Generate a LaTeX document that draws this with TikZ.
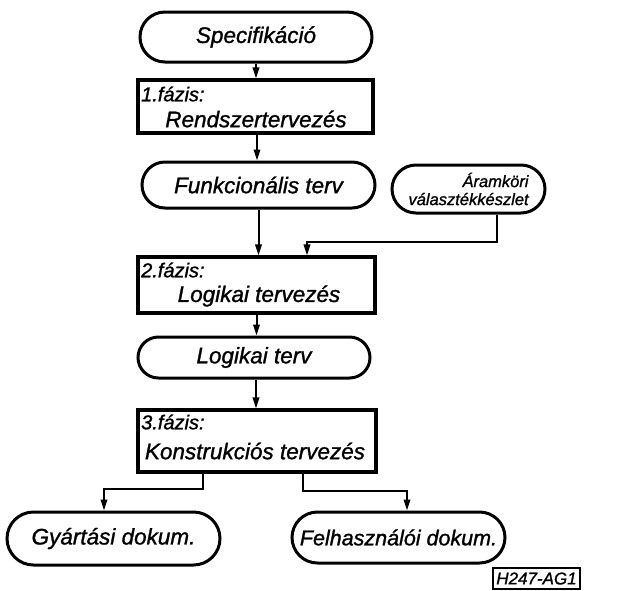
\documentclass[tikz,border=0pt]{standalone}
\usepackage{fontspec}
\setmainfont{Liberation Sans}
\newfontfamily\hand{Liberation Sans}[ItalicFeatures={FakeBold=1.2}]
\usetikzlibrary{shapes.misc,arrows.meta}
\begin{document}
\begin{tikzpicture}[x=1pt,y=-1pt,
  txt/.style={font=\hand\fontsize{22.5}{25}\selectfont\itshape},
  pill/.style={rounded rectangle, draw, line width=3pt, inner sep=0pt, align=center, txt},
  phase/.style={rectangle, draw, line width=3.2pt, inner sep=0pt},
  lbl/.style={inner sep=0pt, txt},
  small/.style={inner sep=0pt, font=\hand\fontsize{20}{22}\selectfont\itshape},
  conn/.style={line width=2pt, -{Triangle[length=11pt,width=6.5pt]}}]
\useasboundingbox[fill=white] (0,0) rectangle (621,590);

% terminals
\node[pill, minimum width=232pt, minimum height=50pt] (spec) at (256,37) {Specifikáció};
\node[pill, minimum width=233pt, minimum height=46pt] (funk) at (258.5,185) {Funkcionális terv};
\node[pill, minimum width=153pt, minimum height=48pt, align=right, text width=120pt,
      font=\hand\fontsize{16.5}{18}\selectfont\itshape] (aram) at (468.5,189) {Áramköri\\választékkészlet};
\node[pill, minimum width=232pt, minimum height=41pt] (logt) at (254,357.5) {Logikai terv};
\node[pill, minimum width=213pt, minimum height=53pt] (gyar) at (113.5,538.5) {Gyártási dokum.};
\node[pill, minimum width=213pt, minimum height=51pt, font=\hand\fontsize{21.5}{24}\selectfont\itshape] (felh) at (398.5,537.5) {Felhasználói dokum.};

% phases
\node[phase, minimum width=235pt, minimum height=53pt] (p1) at (255.5,106.5) {};
\node[small, anchor=west] (p1a) at (141,94) {1.fázis:};
\node[lbl] (p1b) at (256,119) {Rendszertervezés};

\node[phase, minimum width=237pt, minimum height=56pt] (p2) at (256.5,285) {};
\node[small, anchor=west] (p2a) at (141,270) {2.fázis:};
\node[lbl] (p2b) at (259,296) {Logikai tervezés};

\node[phase, minimum width=238pt, minimum height=62pt] (p3) at (257,441) {};
\node[small, anchor=west] (p3a) at (141,422) {3.fázis:};
\node[lbl] (p3b) at (255,451) {Konstrukciós tervezés};

% tag
\node[draw, line width=1.2pt, inner sep=0pt, minimum width=87pt, minimum height=21pt,
      font=\hand\fontsize{17}{17}\selectfont\itshape] (tag) at (536.5,578.5) {H247-AG1};

% connectors
\draw[conn] (spec.south) -- (spec.south |- p1.north);
\draw[conn] ([xshift=1.5pt]p1.south) -- ([xshift=1.5pt]p1.south |- funk.north);
\draw[conn] (funk.south) -- (funk.south |- p2.north);
\draw[conn] ([xshift=28.5pt]aram.south) -- ++(0,27) -| ([xshift=50.5pt]p2.north);
\draw[conn] (p2.south) -- (p2.south |- logt.north);
\draw[conn] ([xshift=2pt]logt.south) -- ([xshift=2pt]logt.south |- p3.north);
\draw[conn] ([xshift=-54pt]p3.south) -- ++(0,15) -| ([xshift=-9.5pt]gyar.north);
\draw[conn] ([xshift=46pt]p3.south) -- ++(0,17) -| ([xshift=8.5pt]felh.north);
\end{tikzpicture}
\end{document}
